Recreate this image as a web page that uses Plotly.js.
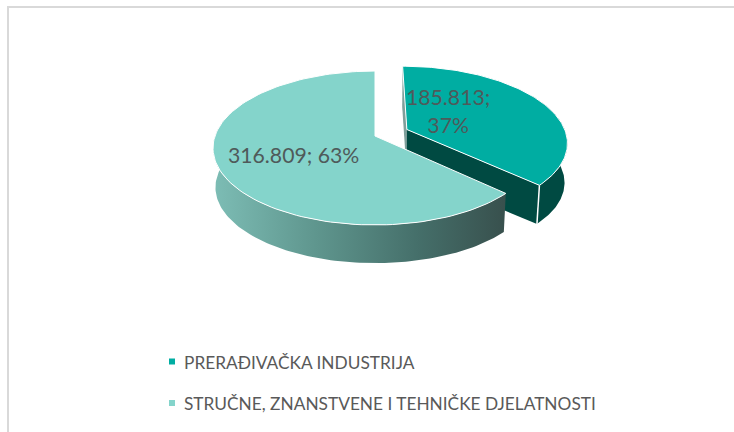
<!DOCTYPE html>
<html><head><meta charset="utf-8">
<script src="https://cdn.plot.ly/plotly-3.0.1.min.js"></script>
<style>html,body{margin:0;padding:0;background:#fff}#c{width:734px;height:432px}</style>
</head><body><div id="c"></div>
<script>
const categories = ['PRERAĐIVAČKA INDUSTRIJA', 'STRUČNE, ZNANSTVENE I TEHNIČKE DJELATNOSTI'];
const values = [185813, 316809];
const topColors = ['#00ADA2', '#84D4CB'];
const explode = [0.22, 0];

// projection of the tilted 3D pie on the page (hidden axes run in page pixels)
const cx = 375, cy = 136, R = 160, S = 75.1, K = 0.156, DEPTH = 39.5, SHRINK = 0.985;
function project(u, v, low) {
  const w = 1 + K * v, s = low ? SHRINK : 1;
  return [cx + s * R * u / w, cy + (low ? DEPTH : 0) - s * S * v / w];
}
const total = values.reduce((a, b) => a + b, 0);
let acc = 0;
const slices = values.map((val, i) => {
  const a0 = acc / total * 2 * Math.PI; acc += val;
  const a1 = acc / total * 2 * Math.PI;
  const mid = (a0 + a1) / 2;
  return {a0, a1, ou: explode[i] * Math.sin(mid), ov: explode[i] * Math.cos(mid)};
});
function arc(sl, from, to, low) {
  const n = 120, pts = [];
  for (let k = 0; k <= n; k++) {
    const t = from + (to - from) * k / n;
    pts.push(project(sl.ou + Math.sin(t), sl.ov + Math.cos(t), low));
  }
  return pts;
}
function poly(pts, extra) {
  return Object.assign({type: 'scatter', mode: 'lines', x: pts.map(p => p[0]), y: pts.map(p => p[1]),
    fill: 'toself', hoverinfo: 'skip', showlegend: false, line: {width: 0}}, extra);
}
const [dark, light] = slices;
const apex = (sl, low) => project(sl.ou, sl.ov, low);

const traces = [];
// dark slice: left sliver
traces.push(poly([apex(dark,false), project(dark.ou + Math.sin(dark.a0), dark.ov + Math.cos(dark.a0), false),
  project(dark.ou + Math.sin(dark.a0), dark.ov + Math.cos(dark.a0), true), apex(dark,true)],
  {fillcolor: '#7f9f9b', line: {width: 0}}));
// dark slice: cut face
const dCorner = Math.sin(dark.a1), dCornerV = Math.cos(dark.a1);
traces.push(poly([apex(dark,false), project(dark.ou + dCorner, dark.ov + dCornerV, false),
  project(dark.ou + dCorner, dark.ov + dCornerV, true), apex(dark,true)],
  {fillcolor: '#004A42'}));
// dark slice: outer wall
traces.push(poly(arc(dark, Math.PI/3, dark.a1, false).concat(arc(dark, dark.a1, Math.PI/3, true)),
  {fillcolor: '#004A42'}));
// white corner edge
const cTop = project(dark.ou + dCorner, dark.ov + dCornerV, false), cLow = project(dark.ou + dCorner, dark.ov + dCornerV, true);
traces.push({type:'scatter', mode:'lines', x:[cTop[0],cLow[0]], y:[cTop[1],cLow[1]], line:{color:'#ffffff', width:1.5}, hoverinfo:'skip', showlegend:false});
// dark slice: top
traces.push(poly([apex(dark,false)].concat(arc(dark, dark.a0, dark.a1, false), [apex(dark,false)]),
  {fillcolor: topColors[0], line: {color: '#ffffff', width: 1}}));
// light slice: wall with gradient
const lightWall = arc(light, light.a0, 1.6 * Math.PI, false).concat(arc(light, 1.6 * Math.PI, light.a0, true));
traces.push(poly(lightWall, {fillcolor: 'rgba(0,0,0,0)',
  fillgradient: {type: 'horizontal', colorscale: [[0, '#7DBDB5'], [0.35, '#5F968E'], [0.7, '#456F6A'], [1, '#38504D']]},
  line: {width: 0}}));
// light slice: top
traces.push(poly([apex(light,false)].concat(arc(light, light.a0, light.a1, false), [apex(light,false)]),
  {fillcolor: topColors[1], line: {color: '#ffffff', width: 1}}));

// legend rows
const legendX = 172, legendTextX = 183, legendY = [361.5, 403];
categories.forEach((c, i) => traces.push({type: 'scatter', mode: 'markers', name: c, x: [legendX], y: [legendY[i]],
  marker: {symbol: 'square', size: 6, color: topColors[i]}, hoverinfo: 'name', showlegend: false}));

const fmt = v => String(v).replace(/\B(?=(\d{3})+$)/g, '.');
const pct = values.map(v => Math.round(v / total * 100) + '%');
const labelFont = {family: 'Lato, sans-serif', size: 21.2, color: '#4F5A5A'};
const legendFont = {family: 'Lato, sans-serif', size: 17.3, color: '#595959'};
const annotations = [
  {x: 448, y: 111, text: fmt(values[0]) + ';<br>' + pct[0], xanchor: 'center', font: labelFont},
  {x: 293, y: 155, text: fmt(values[1]) + '; ' + pct[1], xanchor: 'center', font: labelFont},
  {x: legendTextX, y: legendY[0] + 0.5, text: categories[0], xanchor: 'left', font: legendFont},
  {x: legendTextX, y: legendY[1], text: categories[1], xanchor: 'left', font: legendFont}
].map(a => Object.assign(a, {xref: 'x', yref: 'y', showarrow: false, yanchor: 'middle', xshift: 0, borderpad: 0}));

const layout = {
  width: 734, height: 432, margin: {l: 0, r: 0, t: 0, b: 0},
  paper_bgcolor: '#fff', plot_bgcolor: '#fff', showlegend: false,
  xaxis: {range: [0, 734], visible: false, fixedrange: true},
  yaxis: {range: [432, 0], visible: false, fixedrange: true},
  annotations,
  shapes: [
    {type: 'line', xref: 'x', yref: 'y', x0: 7, x1: 734, y0: 7, y1: 7, line: {color: '#D9D9D9', width: 2}},
    {type: 'line', xref: 'x', yref: 'y', x0: 8, x1: 8, y0: 6, y1: 432, line: {color: '#D9D9D9', width: 2}}
  ]
};
Plotly.newPlot('c', traces, layout, {displayModeBar: false, staticPlot: true});
</script></body></html>
